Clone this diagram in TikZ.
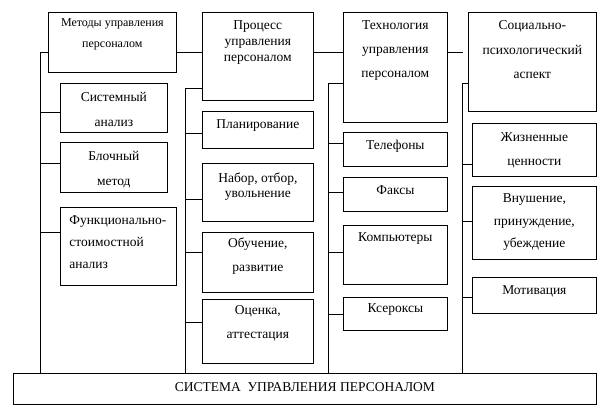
\documentclass[tikz,border=0pt]{standalone}
\usepackage{fontspec}
\setmainfont{Liberation Serif}
\usetikzlibrary{positioning,calc}

% cell text: [format]{width}{height}{top gap}{line skip}{text}
\newcommand{\cell}[6][\centering]{\parbox[c][#3pt][t]{#2pt}{#1\baselineskip=#5pt\relax\vspace*{#4pt}#6}}

\tikzset{
  blk/.style={draw, line width=0.7pt, inner sep=0pt, anchor=north west},
  wire/.style={line width=0.7pt}
}

\begin{document}
\begin{tikzpicture}[x=1pt, y=-1pt, font=\fontsize{13.5}{16}\selectfont]
\useasboundingbox (0,0) rectangle (610,418);

% top row
\node[blk] (methods) at (48,12) {\cell[\centering\fontsize{12}{21}\selectfont]{128}{60}{6}{21}{Методы управления\\персоналом}};
\node[blk] (process) at (202,12) {\cell{111}{88}{8.5}{16}{Процесс\\управления\\персоналом}};
\node[blk] (tech) at (343,12) {\cell{104}{110}{8.5}{24}{Технология\\управления\\персоналом}};
\node[blk] (social) at (468,12) {\cell{128}{99}{8.5}{24.5}{Социально-\\психологический\\аспект}};

% methods
\node[blk] (sys) at (60,83) {\cell{107}{49}{8.5}{25}{Системный\\анализ}};
\node[blk] (block) at (60,142) {\cell{107}{50}{9.2}{24.3}{Блочный\\метод}};
\node[blk] (func) at (60,207) {\cell[\raggedright\leftskip=9pt]{116}{78}{8.2}{22}{Функционально-\\стоимостной\\анализ}};

% process
\node[blk] (plan) at (202,111) {\cell{111}{37}{8.5}{16}{Планирование}};
\node[blk] (hire) at (202,163) {\cell{111}{58}{9.2}{15}{Набор, отбор,\\увольнение}};
\node[blk] (train) at (202,232) {\cell{111}{60}{5.8}{23.4}{Обучение,\\развитие}};
\node[blk] (eval) at (202,299) {\cell{111}{64}{6.5}{23.3}{Оценка,\\аттестация}};

% technology
\node[blk] (phone) at (343,132) {\cell{104}{34}{8.2}{16}{Телефоны}};
\node[blk] (fax) at (343,177) {\cell{104}{34}{8.2}{16}{Факсы}};
\node[blk] (comp) at (343,225) {\cell{104}{59}{7.8}{16}{Компьютеры}};
\node[blk] (xerox) at (343,297) {\cell{104}{33}{6.5}{16}{Ксероксы}};

% social aspect
\node[blk] (values) at (472,123) {\cell{124}{53}{9.2}{24.6}{Жизненные\\ценности}};
\node[blk] (suggest) at (472,186) {\cell{124}{73}{7.8}{22.5}{Внушение,\\принуждение,\\убеждение}};
\node[blk] (motiv) at (472,277) {\cell{124}{36}{8.2}{16}{Мотивация}};

\node[blk] (system) at (13,373) {\cell{583}{31}{9.3}{16}{СИСТЕМА\ \ УПРАВЛЕНИЯ ПЕРСОНАЛОМ}};

% buses
\coordinate (lbus) at (40,52);
\coordinate (pbus) at (185,88);
\coordinate (tbus) at (328,83);
\coordinate (sbus) at (462,83);

\draw[wire] (methods.west |- lbus) -- (lbus) -- (lbus |- system.north);
\draw[wire] (methods.east |- lbus) -- (process.west |- lbus);
\draw[wire] (process.east |- lbus) -- (tech.west |- lbus);
\draw[wire, shorten >=5pt] (tech.east |- lbus) -- (social.west |- lbus);
\draw[wire] (process.west |- pbus) -- (pbus) -- (pbus |- system.north);
\draw[wire] (tech.west |- tbus) -- (tbus) -- (tbus |- system.north);
\draw[wire] (social.west |- sbus) -- (sbus) -- (sbus |- system.north);

% branches
\foreach \n/\d in {sys/-4, block/4, func/14}
  \draw[wire] ([yshift=\d]\n.west) -- ([yshift=\d]\n.west -| lbus);
\foreach \n/\d in {plan/-3, hire/-7, train/10, eval/9}
  \draw[wire] ([yshift=\d]\n.west) -- ([yshift=\d]\n.west -| pbus);
\foreach \n/\d in {phone/6, fax/2, comp/3, xerox/0}
  \draw[wire] ([yshift=\d]\n.west) -- ([yshift=\d]\n.west -| tbus);
\foreach \n/\d in {values/-14, suggest/1.5, motiv/-1.7}
  \draw[wire] ([yshift=\d]\n.west) -- ([yshift=\d]\n.west -| sbus);
\end{tikzpicture}
\end{document}
